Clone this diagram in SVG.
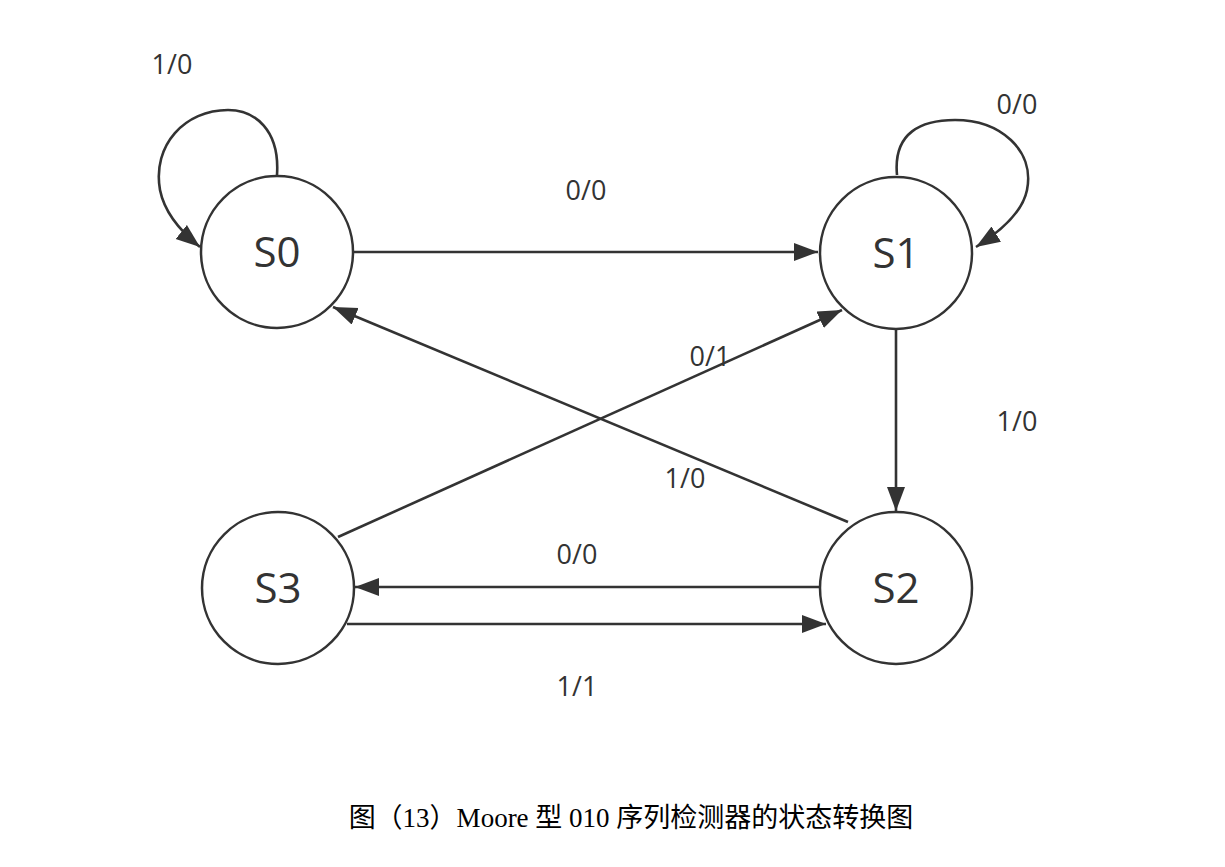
<svg xmlns="http://www.w3.org/2000/svg" width="1225" height="867" viewBox="0 0 1225 867">
<defs>
<marker id="arr" markerUnits="userSpaceOnUse" markerWidth="26" markerHeight="20" refX="24" refY="9" orient="auto">
<path d="M0,0 L24,9 L0,18 z" fill="#333"/>
</marker>
<style>
.st{fill:#fff;stroke:#333;stroke-width:2.5}
.sl{font-family:"Open Sans","DejaVu Sans",sans-serif;font-size:42px;fill:#333;text-anchor:middle}
.e{fill:none;stroke:#333;stroke-width:2.6;marker-end:url(#arr)}
.lb{font-family:"Open Sans","DejaVu Sans",sans-serif;font-size:27px;fill:#333;text-anchor:middle}
.cap{font-family:"Liberation Serif","Noto Sans CJK SC",serif;font-size:27px;fill:#000;text-anchor:middle}
</style>
</defs>
<rect width="1225" height="867" fill="#fff"/>
<g id="connectors">
<path class="e" d="M 277 175 C 280 130, 255 110, 228 110 C 185 110, 152 145, 160 190 C 165 215, 185 235, 200 247"/>
<path class="e" d="M 897 175 C 893 132, 922 120, 955 120 C 1000 120, 1035 150, 1027 190 C 1022 215, 995 235, 976 247"/>
<path class="e" d="M 354 252 L 818 252"/>
<path class="e" d="M 848 522 L 333 307"/>
<path class="e" d="M 338 537 L 842 310"/>
<path class="e" d="M 896 330 L 896 511"/>
<path class="e" d="M 820 587 L 355 587"/>
<path class="e" d="M 347 624 L 826 624"/>
</g>
<g id="labels">
<text class="lb" x="172" y="74">1/0</text>
<text class="lb" x="586" y="200">0/0</text>
<text class="lb" x="1017" y="114">0/0</text>
<text class="lb" x="710" y="366">0/1</text>
<text class="lb" x="1017" y="431">1/0</text>
<text class="lb" x="685" y="488">1/0</text>
<text class="lb" x="577" y="564">0/0</text>
<text class="lb" x="577" y="696">1/1</text>
</g>
<g id="S0"><circle class="st" cx="277" cy="252" r="76"/><text class="sl" x="277" y="267">S0</text></g>
<g id="S1"><circle class="st" cx="896" cy="253" r="76"/><text class="sl" x="896" y="268">S1</text></g>
<g id="S2"><circle class="st" cx="896" cy="588" r="76"/><text class="sl" x="896" y="603">S2</text></g>
<g id="S3"><circle class="st" cx="278" cy="588" r="76"/><text class="sl" x="278" y="603">S3</text></g>
<text class="cap" x="631" y="827">图（13）Moore 型 010 序列检测器的状态转换图</text>
</svg>
